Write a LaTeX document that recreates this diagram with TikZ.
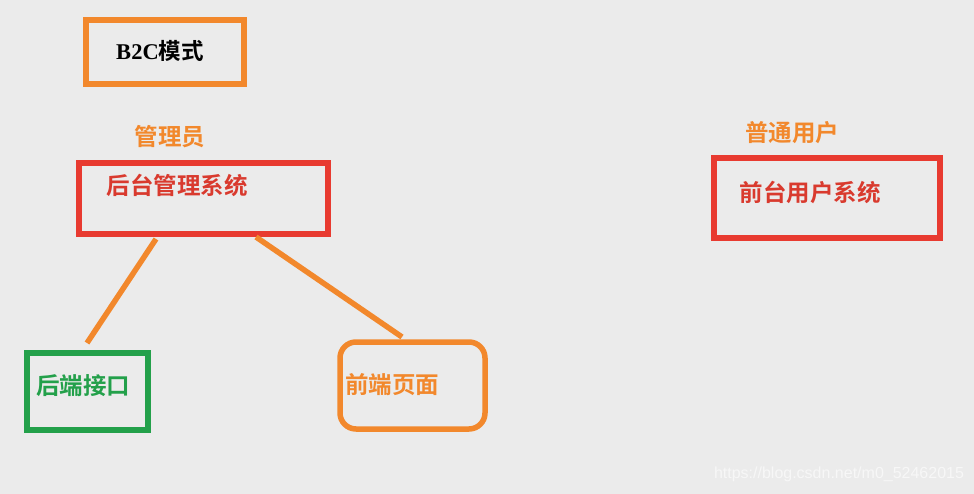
\documentclass[tikz,border=0pt]{standalone}
\usepackage{fontspec}
\setmainfont{Liberation Serif}
\newfontfamily\cjk{Noto Sans CJK SC}[BoldFont=* Bold]
\newfontfamily\wm{Liberation Sans}
\definecolor{bg}{HTML}{EBEBEB}
\definecolor{ora}{HTML}{F2882C}
\definecolor{redb}{HTML}{E83A30}
\definecolor{redt}{HTML}{D93A2E}
\definecolor{grn}{HTML}{23A04A}
\definecolor{wmc}{HTML}{F7F7F7}
\tikzset{
  box/.style={draw, line width=5.5pt, minimum width=#1, inner sep=0pt, outer sep=0pt},
  lbl/.style={font=\cjk\bfseries\fontsize{23.5}{23.5}\selectfont, inner sep=0pt},
  conn/.style={draw=ora, line width=5.5pt}
}
\begin{document}
\begin{tikzpicture}[x=1pt,y=-1pt]
\fill[bg] (0,0) rectangle (974,494);
\useasboundingbox (0,0) rectangle (974,494);
% boxes
\node[box=158pt, draw=ora, minimum height=64pt] (b2c) at (165,52) {};
\node[box=249pt, draw=redb, minimum height=71pt] (admin) at (203.5,198.5) {};
\node[box=226pt, draw=redb, minimum height=80pt] (front) at (827,198) {};
\node[box=121pt, draw=grn, minimum height=77pt] (api) at (87.5,391.5) {};
\node[box=145pt, draw=ora, minimum height=87pt, rounded corners=16pt] (page) at (412.5,385.5) {};
% texts
\node[inner sep=0pt, font=\bfseries\fontsize{22.5}{22.5}\selectfont] (b2ct) at (160,51) {B2C{\cjk\bfseries 模式}};
\node[lbl, text=ora] (role1) at (170,137) {管理员};
\node[lbl, text=redt] (admint) at (177,185) {后台管理系统};
\node[lbl, text=ora] (role2) at (792,133) {普通用户};
\node[lbl, text=redt] (frontt) at (810,192) {前台用户系统};
\node[lbl, text=grn] (apit) at (83,386) {后端接口};
\node[lbl, text=ora] (paget) at (392,385) {前端页面};
% connectors
\coordinate (c1a) at (156,239);
\coordinate (c1b) at (87,343);
\coordinate (c2a) at (256,237);
\coordinate (c2b) at (402,337);
\draw[conn] (c1a) -- (c1b);
\draw[conn] (c2a) -- (c2b);
% watermark
\node[inner sep=0pt, text=wmc, font=\wm\fontsize{16}{16}\selectfont] (wmark) at (839,474) {https://blog.csdn.net/m0\_52462015};
\end{tikzpicture}
\end{document}
